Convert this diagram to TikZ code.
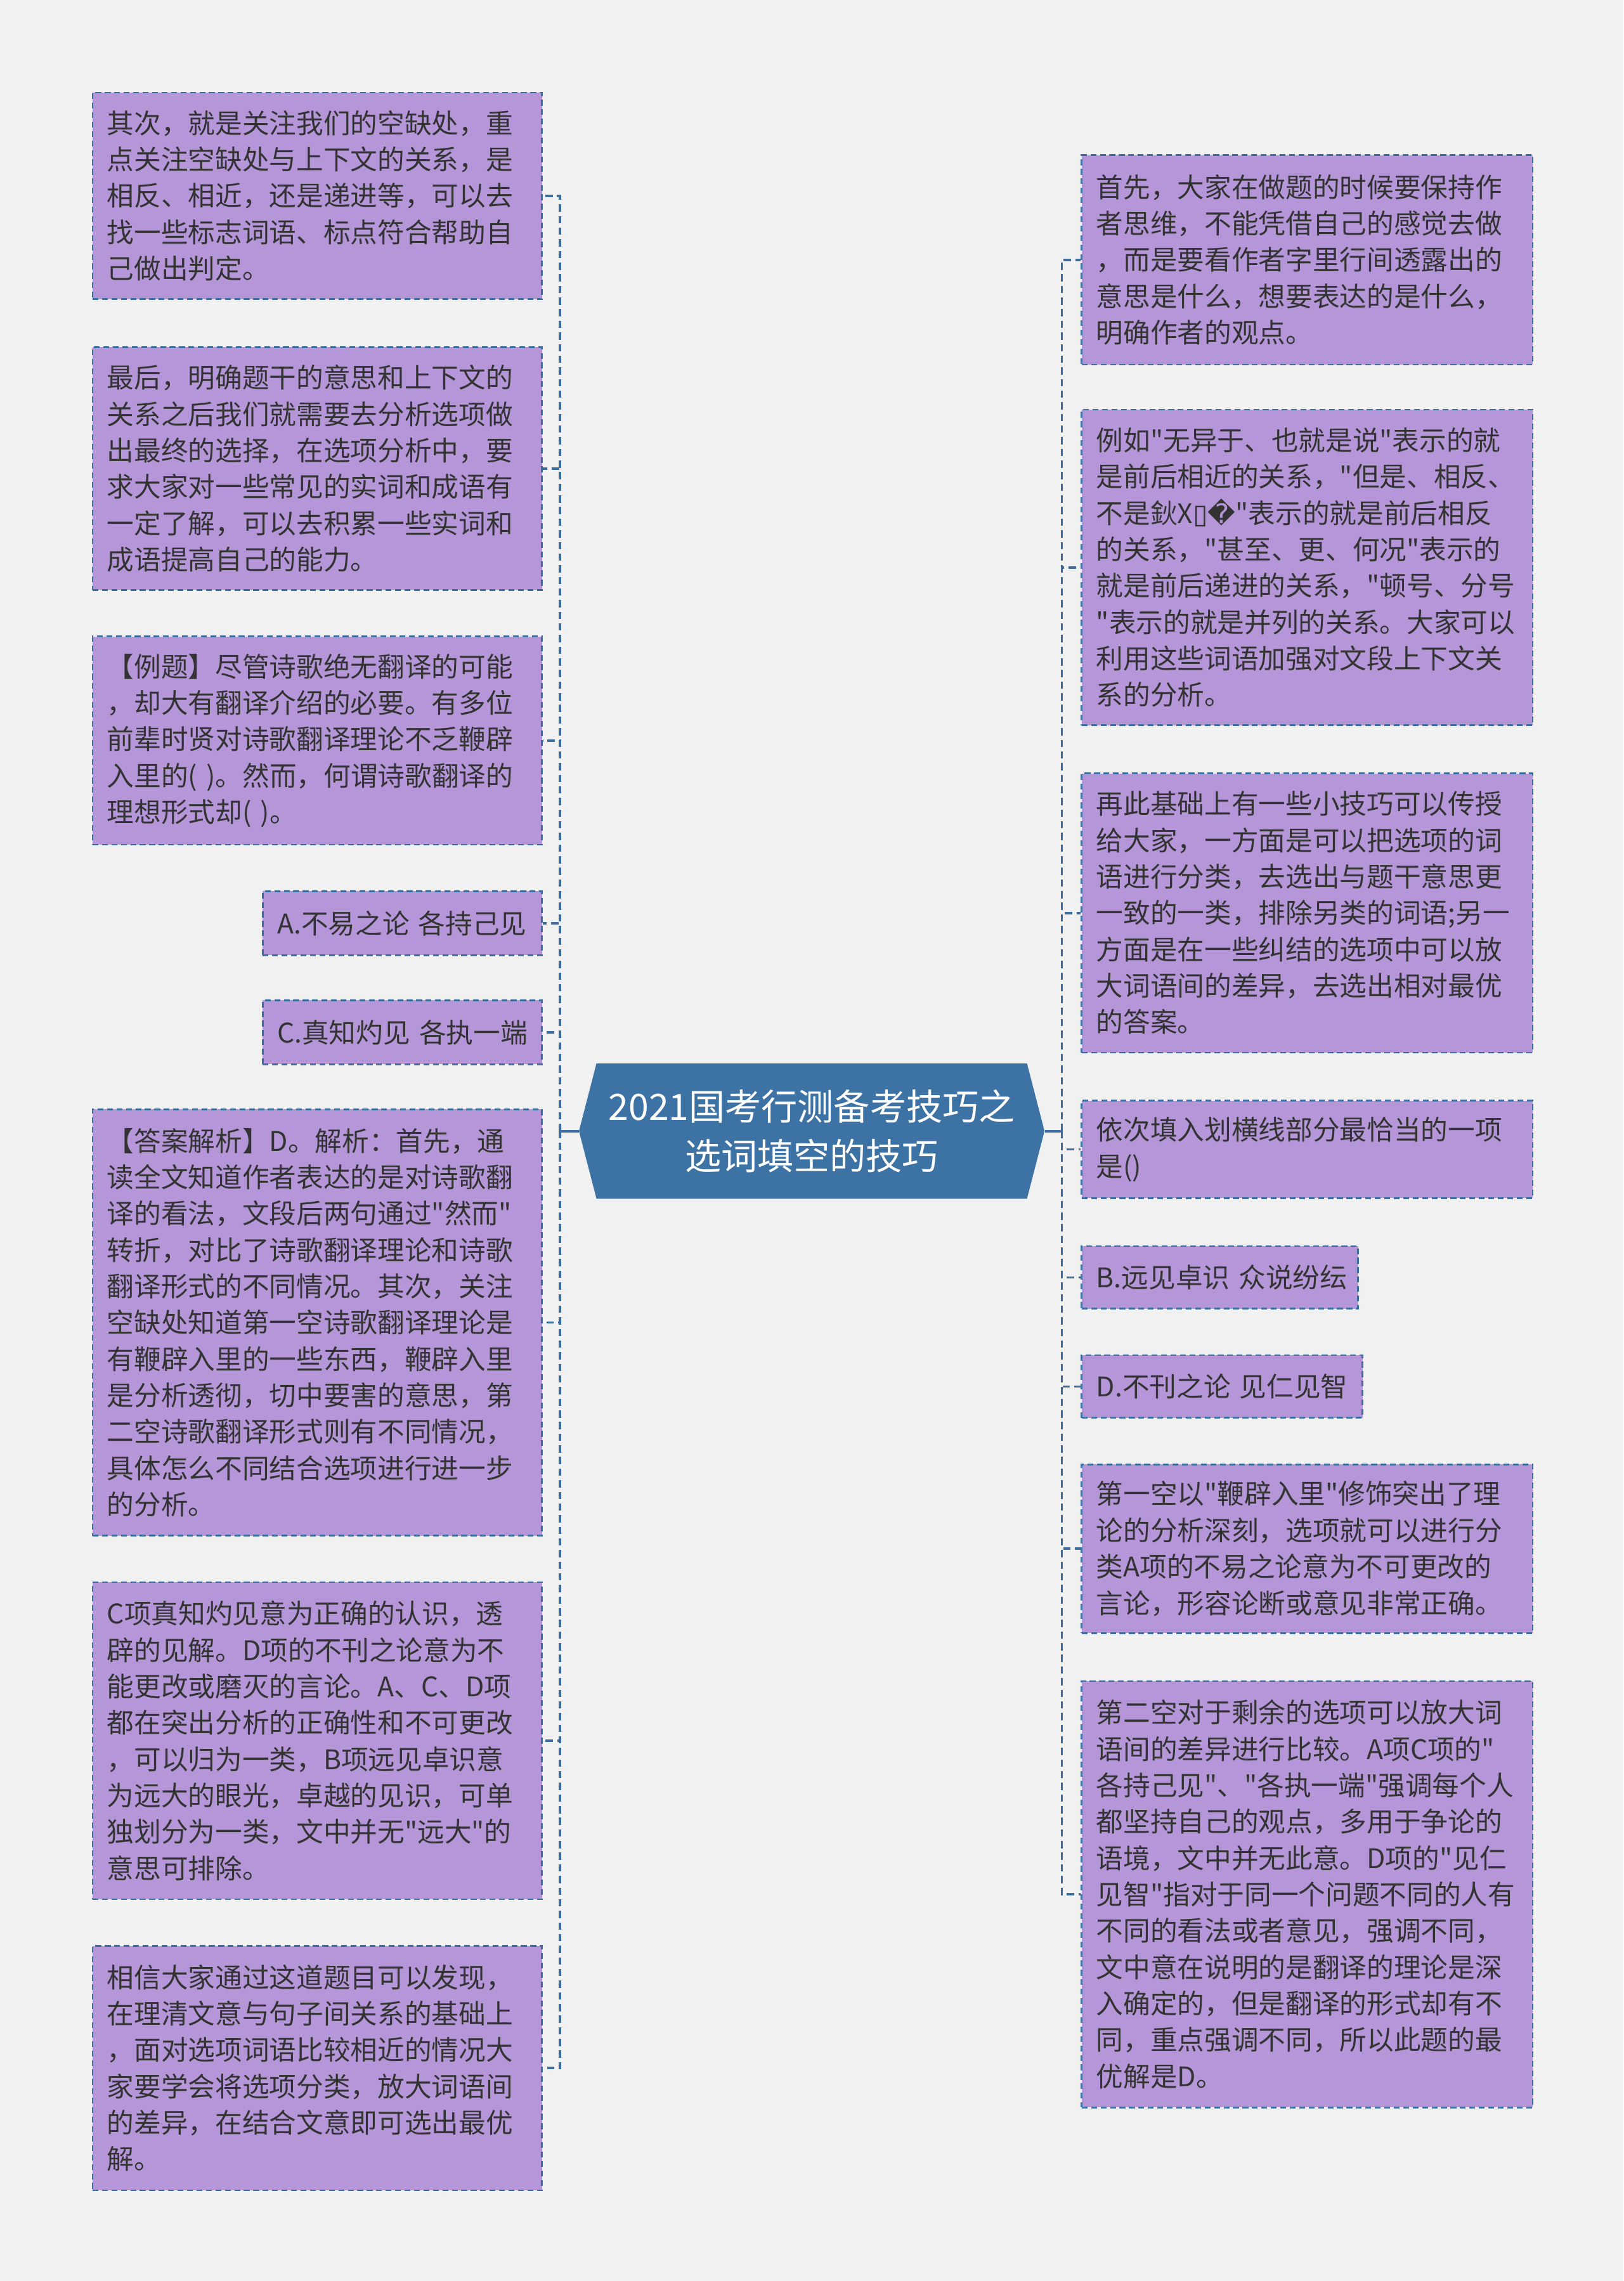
\documentclass[tikz,border=0pt]{standalone}
\usepackage{fontspec}
\setmainfont{Noto Sans CJK SC}[Ligatures=TeXOff]
\newfontfamily\dejavu{DejaVu Sans}
\usetikzlibrary{shapes.symbols}
\definecolor{bgcol}{HTML}{F1F1F1}
\definecolor{boxcol}{HTML}{B597D9}
\definecolor{linecol}{HTML}{3D6D9E}
\definecolor{hubcol}{HTML}{3D72A4}
\definecolor{txtcol}{HTML}{333333}
\begin{document}
\begin{tikzpicture}[x=1pt, y=-1pt,
  card/.style={draw=linecol, line width=1.2pt, dash pattern=on 4pt off 2.5pt,
    fill=boxcol, text=txtcol, font=\fontsize{18.6}{25}\selectfont, align=left,
    anchor=north west, inner xsep=10pt, inner ysep=0pt, text width=#1},
  card/.default=289pt,
  hub/.style={signal, signal to=west and east, signal pointer angle=151,
    fill=hubcol, text=white, font=\fontsize{24.9}{34}\selectfont, align=center,
    minimum width=320pt, minimum height=93pt, inner sep=0pt},
  link/.style={draw=linecol, line width=1.6pt, dash pattern=on 5pt off 3pt},
  stem/.style={draw=linecol, line width=1.8pt}]
  \useasboundingbox (0,0) rectangle (1116,1568);
  \fill[bgcol] (0,0) rectangle (1116,1568);

  \node[hub] (ctr) at (558,777.5) {2021国考行测备考技巧之\\选词填空的技巧};

  \node[card, minimum height=142pt] (L1) at (63,63) {其次，就是关注我们的空缺处，重\\点关注空缺处与上下文的关系，是\\相反、相近，还是递进等，可以去\\找一些标志词语、标点符合帮助自\\己做出判定。};
  \node[card, minimum height=167pt] (L2) at (63,238) {最后，明确题干的意思和上下文的\\关系之后我们就需要去分析选项做\\出最终的选择，在选项分析中，要\\求大家对一些常见的实词和成语有\\一定了解，可以去积累一些实词和\\成语提高自己的能力。};
  \node[card, minimum height=143pt] (L3) at (63,437) {【例题】尽管诗歌绝无翻译的可能\\，却大有翻译介绍的必要。有多位\\前辈时贤对诗歌翻译理论不乏鞭辟\\入里的( )。然而，何谓诗歌翻译的\\理想形式却( )。};
  \node[card=172pt, minimum height=44pt] (L4) at (180,612) {A.不易之论~各持己见};
  \node[card=172pt, minimum height=44pt] (L5) at (180,687) {C.真知灼见~各执一端};
  \node[card, minimum height=293pt] (L6) at (63,762) {【答案解析】D。解析：首先，通\\读全文知道作者表达的是对诗歌翻\\译的看法，文段后两句通过"然而"\\转折，对比了诗歌翻译理论和诗歌\\翻译形式的不同情况。其次，关注\\空缺处知道第一空诗歌翻译理论是\\有鞭辟入里的一些东西，鞭辟入里\\是分析透彻，切中要害的意思，第\\二空诗歌翻译形式则有不同情况，\\具体怎么不同结合选项进行进一步\\的分析。};
  \node[card, minimum height=218pt] (L7) at (63,1087) {C项真知灼见意为正确的认识，透\\辟的见解。D项的不刊之论意为不\\能更改或磨灭的言论。A、C、D项\\都在突出分析的正确性和不可更改\\，可以归为一类，B项远见卓识意\\为远大的眼光，卓越的见识，可单\\独划分为一类，文中并无"远大"的\\意思可排除。};
  \node[card, minimum height=168pt] (L8) at (63,1337) {相信大家通过这道题目可以发现，\\在理清文意与句子间关系的基础上\\，面对选项词语比较相近的情况大\\家要学会将选项分类，放大词语间\\的差异，在结合文意即可选出最优\\解。};

  \node[card=290pt, minimum height=144pt] (R1) at (743,106) {首先，大家在做题的时候要保持作\\者思维，不能凭借自己的感觉去做\\，而是要看作者字里行间透露出的\\意思是什么，想要表达的是什么，\\明确作者的观点。};
  \node[card=290pt, minimum height=217pt] (R2) at (743,281) {例如"无异于、也就是说"表示的就\\是前后相近的关系，"但是、相反、\\不是鈥X{\dejavu ▯�}"表示的就是前后相反\\的关系，"甚至、更、何况"表示的\\就是前后递进的关系，"顿号、分号\\"表示的就是并列的关系。大家可以\\利用这些词语加强对文段上下文关\\系的分析。};
  \node[card=290pt, minimum height=192pt] (R3) at (743,531) {再此基础上有一些小技巧可以传授\\给大家，一方面是可以把选项的词\\语进行分类，去选出与题干意思更\\一致的一类，排除另类的词语;另一\\方面是在一些纠结的选项中可以放\\大词语间的差异，去选出相对最优\\的答案。};
  \node[card=290pt, minimum height=67pt] (R4) at (743,756) {依次填入划横线部分最恰当的一项\\是()};
  \node[card=170pt, minimum height=43pt] (R5) at (743,856) {B.远见卓识~众说纷纭};
  \node[card=173pt, minimum height=43pt] (R6) at (743,931) {D.不刊之论~见仁见智};
  \node[card=290pt, minimum height=116pt] (R7) at (743,1006) {第一空以"鞭辟入里"修饰突出了理\\论的分析深刻，选项就可以进行分\\类A项的不易之论意为不可更改的\\言论，形容论断或意见非常正确。};
  \node[card=290pt, minimum height=293pt] (R8) at (743,1155) {第二空对于剩余的选项可以放大词\\语间的差异进行比较。A项C项的"\\各持己见"、"各执一端"强调每个人\\都坚持自己的观点，多用于争论的\\语境，文中并无此意。D项的"见仁\\见智"指对于同一个问题不同的人有\\不同的看法或者意见，强调不同，\\文中意在说明的是翻译的理论是深\\入确定的，但是翻译的形式却有不\\同，重点强调不同，所以此题的最\\优解是D。};

  \coordinate (jl) at (385,777.5);
  \coordinate (jr) at (730,777.5);
  \draw[stem] (ctr.west) -- (jl);
  \draw[stem] (ctr.east) -- (jr);
  \foreach \n in {L1,L2,L3,L4,L5,L6,L7,L8}
    \draw[link] (jl) |- (\n.east);
  \foreach \n in {R1,R2,R3,R4,R5,R6,R7,R8}
    \draw[link] (jr) |- (\n.west);
\end{tikzpicture}
\end{document}
